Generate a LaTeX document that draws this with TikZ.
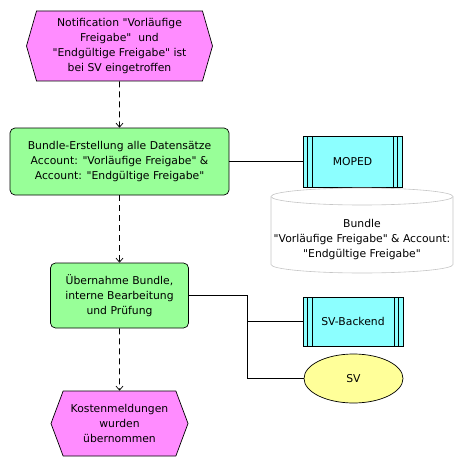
\documentclass[tikz,border=0pt]{standalone}
\usepackage{fontspec}
\setmainfont{DejaVu Sans}[Ligatures=TeXOff]
\usetikzlibrary{shapes.symbols,shapes.geometric,arrows.meta}

\definecolor{evpink}{HTML}{FF8CFF}
\definecolor{fngreen}{HTML}{98FF98}
\definecolor{sycyan}{HTML}{8CFFFF}
\definecolor{orgyellow}{HTML}{FFFF99}

\begin{document}
\begin{tikzpicture}[x=1pt, y=-1pt, line width=0.7pt,
		every node/.style={font=\fontsize{10.8}{15}\selectfont, align=center, inner sep=0pt},
		ereignis/.style={signal, signal to=west and east, draw, fill=evpink},
		funktion/.style={rectangle, rounded corners=5pt, draw, fill=fngreen},
		system/.style={rectangle, draw, fill=sycyan,
			path picture={
				\foreach \d in {4.5,9} {
					\draw ([xshift=\d pt]path picture bounding box.north west) -- ([xshift=\d pt]path picture bounding box.south west);
					\draw ([xshift=-\d pt]path picture bounding box.north east) -- ([xshift=-\d pt]path picture bounding box.south east);
				}
			}},
		datenrand/.style={draw=gray!45, fill=white, line width=0.6pt},
		orga/.style={ellipse, draw, fill=orgyellow},
		fluss/.style={dashed, dash pattern=on 6pt off 4pt, -{Straight Barb[length=4pt,width=7pt]}}
	]
	\useasboundingbox (0,0) rectangle (464,468);

	% イベントと機能
	\node[ereignis, minimum width=186pt, minimum height=70pt, signal pointer angle=148] (start) at (119.5, 46)
		{Notification "Vorläufige\\ Freigabe"\ \ und\\ "Endgültige Freigabe" ist\\ bei SV eingetroffen};
	\node[funktion, minimum width=219pt, minimum height=67pt] (f1) at (119.5, 161.5)
		{Bundle-Erstellung alle Datensätze\\ Account: "Vorläufige Freigabe" \&\\ Account: "Endgültige Freigabe"};
	\node[funktion, minimum width=138pt, minimum height=65pt] (f2) at (119.5, 295.5)
		{Übernahme Bundle,\\ interne Bearbeitung\\ und Prüfung};
	\node[ereignis, minimum width=137pt, minimum height=65pt, signal pointer angle=139] (ende) at (119.5, 423.5)
		{Kostenmeldungen\\ wurden\\ übernommen};

	% システムとデータ
	\node[system, minimum width=99pt, minimum height=51pt] (moped) at (352.5, 161.5) {MOPED};
	% データは円柱で
	\draw[datenrand] (271,196.5) -- (271,264.5) arc[start angle=180, end angle=0, x radius=91, y radius=8.5]
		-- (453,196.5) arc[start angle=0, end angle=-180, x radius=91, y radius=8.5] -- cycle;
	\draw[datenrand] (271,196.5) arc[start angle=180, end angle=0, x radius=91, y radius=8.5];
	\node (bundle) at (362, 240) {Bundle\\ "Vorläufige Freigabe" \& Account:\\ "Endgültige Freigabe"};
	\node[system, minimum width=100pt, minimum height=49pt] (svb) at (353, 321.5) {SV-Backend};
	\node[orga, minimum width=99pt, minimum height=49pt] (sv) at (353.5, 378.5) {SV};

	\coordinate (abzweig) at (247.5, 321.5);

	\draw[fluss] (start) -- (f1);
	\draw[fluss] (f1) -- (f2);
	\draw[fluss] (f2) -- (ende);

	\draw (f1) -- (moped);
	\draw (f2.east) -| (abzweig) |- (sv.west);
	\draw (abzweig) -- (svb.west);
\end{tikzpicture}
\end{document}
